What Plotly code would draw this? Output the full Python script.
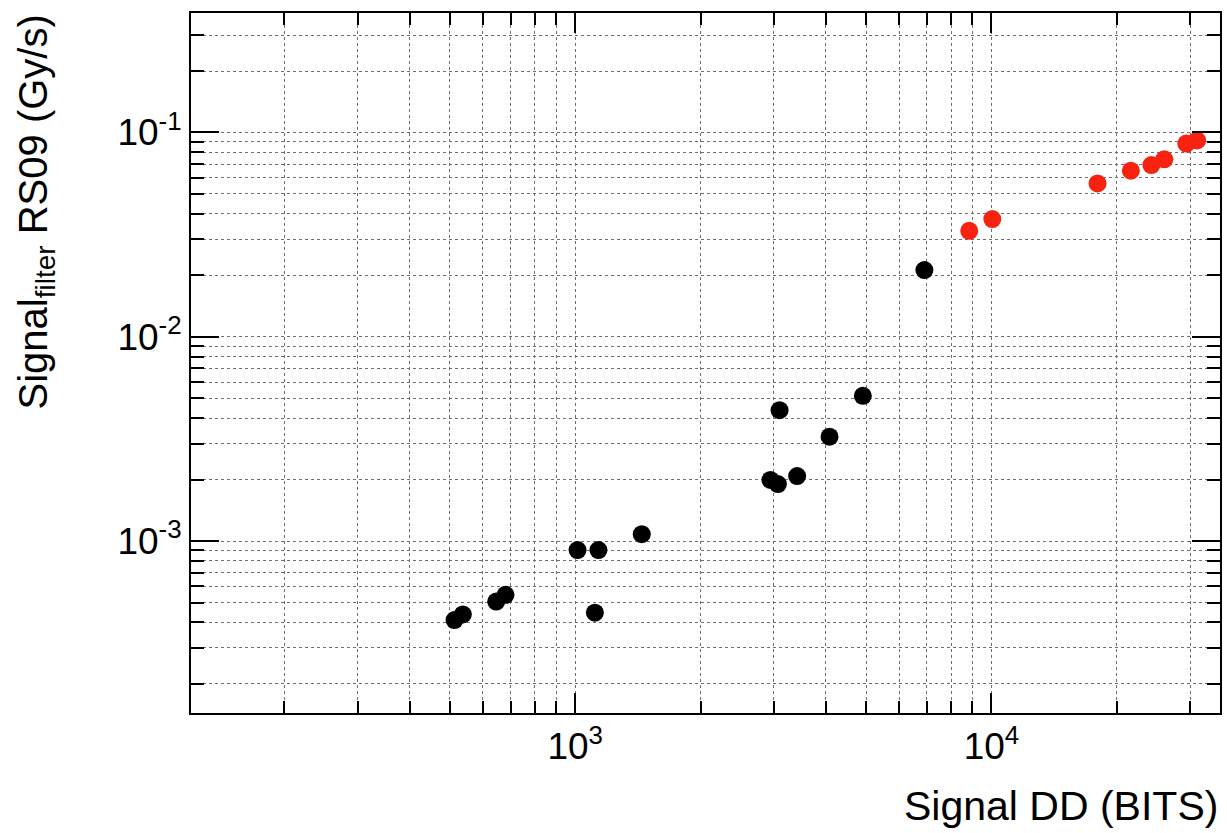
import plotly.graph_objects as go
import numpy as np

# Data
black_x = [513, 537, 646, 680, 1013, 1137, 1115, 1445, 2944, 3068, 3097, 3413, 4083, 4909, 6900]
black_y = [4.1e-4, 4.37e-4, 5.05e-4, 5.45e-4, 9.03e-4, 9.03e-4, 4.46e-4, 1.08e-3,
           1.99e-3, 1.90e-3, 4.37e-3, 2.08e-3, 3.24e-3, 5.14e-3, 0.0212]
red_x = [8842, 10046, 17980, 21620, 24220, 26010, 29380, 31190]
red_y = [0.0330, 0.0377, 0.0563, 0.0650, 0.0693, 0.0739, 0.0883, 0.0914]

x_major = [1e3, 1e4]
x_major_text = ["10<sup>3</sup>", "10<sup>4</sup>"]
y_major = [1e-3, 1e-2, 1e-1]
y_major_text = ["10<sup>-3</sup>", "10<sup>-2</sup>", "10<sup>-1</sup>"]

x_title = "Signal DD (BITS)"
y_title = "Signal<sub>filter</sub> RS09 (Gy/s)"

x_range = [2.077, 4.549]
y_range = [-3.842, -0.415]

def minors(lo, hi):
    vals = []
    for e in range(int(np.floor(lo)) - 1, int(np.ceil(hi)) + 1):
        for m in range(2, 10):
            v = m * 10.0 ** e
            if lo <= np.log10(v) <= hi:
                vals.append(v)
    return vals

FONT = "Liberation Sans, Arial, sans-serif"
GRID = "#6e6e6e"

fig = go.Figure()
fig.add_trace(go.Scatter(x=black_x, y=black_y, mode="markers",
                         marker=dict(color="black", size=18, line=dict(width=0)),
                         showlegend=False))
fig.add_trace(go.Scatter(x=red_x, y=red_y, mode="markers",
                         marker=dict(color="#f7220f", size=18, line=dict(width=0)),
                         showlegend=False))

common = dict(
    type="log", showline=True, linecolor="black", linewidth=2, mirror="allticks",
    ticks="inside", tickcolor="black", tickwidth=1.5,
    showgrid=True, gridcolor=GRID, griddash="dot", gridwidth=1,
    zeroline=False,
    tickfont=dict(family=FONT, size=37, color="black"),
)

fig.update_xaxes(**common, range=x_range, tickmode="array", tickvals=x_major,
                 ticktext=x_major_text, ticklen=20,
                 minor=dict(tickvals=minors(*x_range), ticks="inside", ticklen=12,
                            tickcolor="black", tickwidth=1.5, showgrid=True,
                            gridcolor=GRID, griddash="dot", gridwidth=1))
fig.update_yaxes(**common, range=y_range, tickmode="array", tickvals=y_major,
                 ticktext=y_major_text, ticklen=28,
                 minor=dict(tickvals=minors(*y_range), ticks="inside", ticklen=13,
                            tickcolor="black", tickwidth=1.5, showgrid=True,
                            gridcolor=GRID, griddash="dot", gridwidth=1))

fig.add_annotation(text=x_title, xref="paper", yref="paper", x=1, y=0,
                   xanchor="right", yanchor="top", yshift=-68, showarrow=False,
                   font=dict(family=FONT, size=41, color="black"))
fig.add_annotation(text=y_title, xref="paper", yref="paper", x=0, y=1,
                   xanchor="left", yanchor="top", xshift=-183, yshift=0,
                   textangle=-90, showarrow=False,
                   font=dict(family=FONT, size=40, color="black"))

fig.update_layout(width=1227, height=833, plot_bgcolor="white", paper_bgcolor="white",
                  margin=dict(l=191, r=5, t=13, b=120))

fig.write_html("out.html")
